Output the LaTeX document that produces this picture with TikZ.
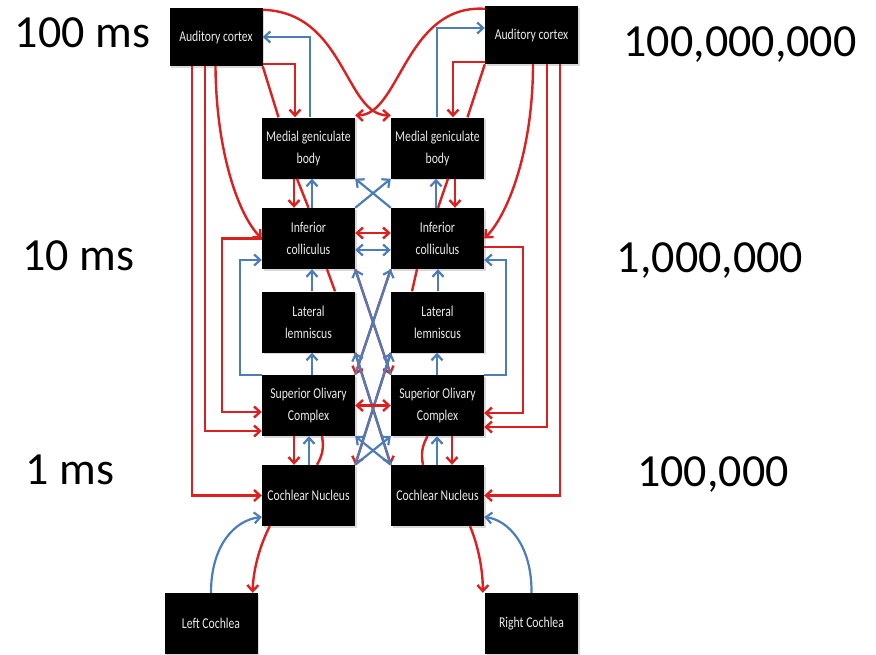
\documentclass[tikz,border=0pt]{standalone}
\usepackage{fontspec}
\setmainfont{Carlito}
\newfontfamily\boxfont[FakeStretch=0.78]{Carlito}
\usetikzlibrary{arrows.meta,calc,shadows}
\definecolor{effred}{HTML}{DC1F1F}
\definecolor{affblue}{HTML}{4C7DB8}
\tikzset{
  station/.style={fill=black, text=white!92!black, minimum width=93pt, minimum height=61pt,
    inner sep=1pt, align=center, font=\boxfont\fontsize{15}{22}\selectfont,
    drop shadow={shadow xshift=1.5pt, shadow yshift=-1.5pt, opacity=0.3}},
  bigtxt/.style={font=\fontsize{46}{50}\selectfont, inner sep=0pt, anchor=base},
  effl/.style={draw=effred, line width=2.4pt},
  eff/.style={effl, -{Straight Barb[length=6pt,width=11pt]}},
  effx/.style={effl, {Straight Barb[length=6pt,width=11pt]}-{Straight Barb[length=6pt,width=11pt]}},
  aff/.style={draw=affblue, line width=2.2pt, -{Straight Barb[length=6pt,width=11pt]}},
  affx/.style={draw=affblue, line width=2.2pt, {Straight Barb[length=6pt,width=11pt]}-{Straight Barb[length=6pt,width=11pt]}}
}
\begin{document}
\begin{tikzpicture}[x=1pt, y=-1pt]
  \useasboundingbox (0,0) rectangle (876,654);
  % time scale and neuron counts
  \node[bigtxt] (tTop) at (82.5,47) {100 ms};
  \node[bigtxt] (tMid) at (78.5,270) {10 ms};
  \node[bigtxt] (tLow) at (70,484) {1 ms};
  \node[bigtxt] (nTop) at (740,56.5) {100,000,000};
  \node[bigtxt] (nMid) at (710,272) {1,000,000};
  \node[bigtxt] (nLow) at (713,486) {100,000};
  % stations
  \node[station, minimum height=58pt] (acL) at (216,37) {Auditory cortex};
  \node[station, minimum height=58pt] (acR) at (531.5,35) {Auditory cortex};
  \node[station] (mgbL) at (308.5,148) {Medial geniculate\\body};
  \node[station] (mgbR) at (437.5,148) {Medial geniculate\\body};
  \node[station] (icL) at (308.5,238.5) {Inferior\\colliculus};
  \node[station] (icR) at (437.5,238.5) {Inferior\\colliculus};
  \node[station] (llL) at (308.5,322) {Lateral\\lemniscus};
  \node[station] (llR) at (437.5,322) {Lateral\\lemniscus};
  \node[station] (socL) at (308.5,405.5) {Superior Olivary\\Complex};
  \node[station] (socR) at (437.5,405.5) {Superior Olivary\\Complex};
  \node[station] (cnL) at (308.5,495.5) {Cochlear Nucleus};
  \node[station] (cnR) at (437.5,495.5) {Cochlear Nucleus};
  \node[station] (cochL) at (211,623.5) {Left Cochlea};
  \node[station] (cochR) at (531.5,623.5) {Right Cochlea};

  % cortex <-> MGB
  \draw[eff] ([yshift=2pt]acL.south east) -| ([xshift=-13.5pt]mgbL.north);
  \draw[effl] (acL.south east) -- ([xshift=-30pt]mgbL.north);
  \draw[aff] ([xshift=1.5pt]mgbL.north) |- (acL.east);
  \draw[eff] ([yshift=2pt]acR.south west) -| ([xshift=15.5pt]mgbR.north);
  \draw[effl] (acR.south west) -- ([xshift=30pt]mgbR.north);
  \draw[aff] ([xshift=-0.5pt]mgbR.north) |- ([yshift=7pt]acR.west);
  \draw[eff] ([yshift=-2pt]acL.north east) .. controls (345,12) and (345,116) .. ([yshift=2pt]mgbR.north west);
  \draw[eff] ([yshift=-3pt]acR.north west) .. controls (405,4) and (400,116) .. ([yshift=2pt]mgbL.north east);

  % MGB <-> IC
  \draw[eff] ([xshift=-14.5pt]mgbL.south) -- ([xshift=-14.5pt]icL.north);
  \draw[aff] ([xshift=3.5pt]icL.north) -- ([xshift=3.5pt]mgbL.south);
  \draw[effl] ([xshift=-11.5pt]mgbL.south) -- (icL.north);
  \draw[eff] ([xshift=17.5pt]mgbR.south) -- ([xshift=17.5pt]icR.north);
  \draw[aff] ([xshift=-1.5pt]icR.north) -- ([xshift=-1.5pt]mgbR.south);
  \draw[effl] ([xshift=10.5pt]mgbR.south) -- ([xshift=0.5pt]icR.north);
  \draw[aff] (icL.north east) -- (mgbR.south west);
  \draw[aff] (icR.north west) -- (mgbL.south east);
  \draw[effx] ([yshift=5.5pt]icL.east) -- ([yshift=5.5pt]icR.west);
  \draw[affx] ([yshift=-11.5pt]icL.east) -- ([yshift=-11.5pt]icR.west);

  % cortex down to IC, SOC, CN
  \draw[eff] ([xshift=-0.5pt]acL.south) .. controls (216,150) and (238,215) .. (icL.west);
  \draw[eff] ([xshift=-11pt]acL.south) |- ([yshift=-25.5pt]socL.west);
  \draw[eff] ([xshift=-24pt]acL.south) |- (cnL.west);
  \draw[eff] ([xshift=1.5pt]acR.south) .. controls (533,150) and (508,215) .. (icR.east);
  \draw[eff] ([xshift=15.5pt]acR.south) |- ([yshift=-21.5pt]socR.east);
  \draw[eff] ([xshift=28.5pt]acR.south) |- (cnR.east);

  % IC -> SOC and SOC -> IC loops
  \draw[eff] (icL.west) -- ++(-40,0) |- ([yshift=-6.5pt]socL.west);
  \draw[eff] ([yshift=-8.5pt]icR.east) -- ++(39,0) |- ([yshift=-7.5pt]socR.east);
  \draw[aff] (socL.north west) -- ++(-22,0) |- ([yshift=-21.5pt]icL.west);
  \draw[aff] (socR.north east) -- ++(22,0) |- ([yshift=-21.5pt]icR.east);

  % LL, SOC, CN columns
  \draw[aff] ([xshift=3.5pt]llL.north) -- ([xshift=3.5pt]icL.south);
  \draw[effl] ([xshift=18.5pt]icL.south) -- ([xshift=26.5pt]llL.north);
  \draw[aff] ([xshift=0.5pt]llR.north) -- ([xshift=0.5pt]icR.south);
  \draw[effl] ([xshift=-20.5pt]icR.south) -- ([xshift=-25.5pt]llR.north);
  \draw[aff] ([xshift=3.5pt]socL.north) -- ([xshift=3.5pt]llL.south);
  \draw[aff] ([xshift=-0.5pt]socR.north) -- ([xshift=-0.5pt]llR.south);
  \draw[eff] ([xshift=-14.5pt]socL.south) -- ([xshift=-14.5pt]cnL.north);
  \draw[aff] ([xshift=0.5pt]cnL.north) -- ([xshift=0.5pt]socL.south);
  \draw[effl] ([xshift=8.5pt]cnL.north) to[bend right=20] ([xshift=13.5pt]socL.south);
  \draw[eff] ([xshift=14.5pt]socR.south) -- ([xshift=14.5pt]cnR.north);
  \draw[aff] ([xshift=-0.5pt]cnR.north) -- ([xshift=-0.5pt]socR.south);
  \draw[effl] ([xshift=-14.5pt]cnR.north) to[bend left=20] ([xshift=-10pt]socR.south);

  % crossings in the midline
  \draw[eff] (icL.south east) -- (socR.north west);
  \draw[eff] (icR.south west) -- (socL.north east);
  \draw[eff] (llL.south east) -- (cnR.north west);
  \draw[eff] (llR.south west) -- (cnL.north east);
  \draw[aff] (socL.north east) -- (icR.south west);
  \draw[aff] (socR.north west) -- (icL.south east);
  \draw[aff] (cnL.north east) -- (llR.south west);
  \draw[aff] (cnR.north west) -- (llL.south east);
  \draw[aff] (cnL.north east) -- (socR.south west);
  \draw[aff] (cnR.north west) -- (socL.south east);
  \draw[effx] (socL.east) -- (socR.west);

  % cochleae
  \draw[aff] (cochL.north) .. controls (211,545) and (235,520) .. ([yshift=-21.5pt]cnL.west);
  \draw[eff] ([xshift=8pt]cnL.south west) .. controls (260,545) and (253,570) .. ([xshift=-5pt]cochL.north east);
  \draw[aff] (cochR.north) .. controls (532,545) and (508,520) .. ([yshift=-21.5pt]cnR.east);
  \draw[eff] ([xshift=32.5pt]cnR.south) .. controls (478,545) and (483,570) .. ([xshift=-2pt]cochR.north west);
\end{tikzpicture}
\end{document}
